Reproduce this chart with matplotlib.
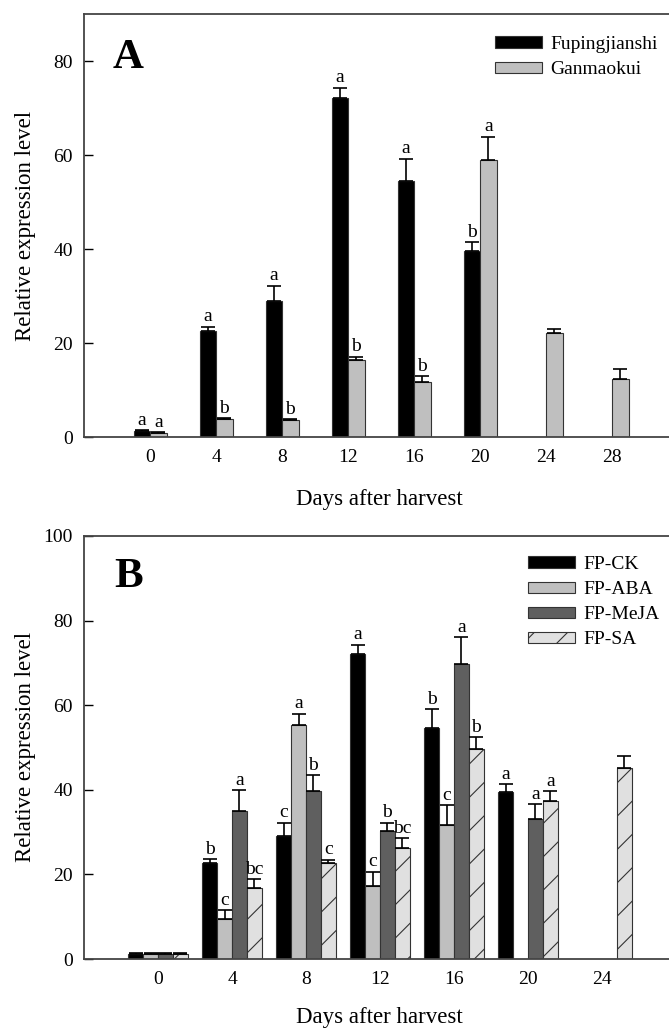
import numpy as np
import matplotlib
matplotlib.use("Agg")
import matplotlib.pyplot as plt

plt.rcParams["font.family"] = ["Liberation Serif", "DejaVu Serif"]
plt.rcParams["hatch.linewidth"] = 0.8
plt.rcParams["hatch.color"] = "#333333"

nan = np.nan

# Panel A: two cultivars
days_a = [0, 4, 8, 12, 16, 20, 24, 28]
fu_mean = [1.2, 22.6, 29.0, 72.2, 54.5, 39.6, nan, nan]
fu_err = [0.2, 0.9, 3.2, 2.1, 4.7, 1.8, nan, nan]
fu_letters = ["a", "a", "a", "a", "a", "b", "", ""]
gan_mean = [0.85, 3.8, 3.6, 16.4, 11.7, 59.0, 22.1, 12.4]
gan_err = [0.2, 0.2, 0.2, 0.7, 1.3, 4.9, 0.8, 2.0]
gan_letters = ["a", "b", "b", "b", "b", "a", "", ""]

# Panel B: hormone treatments
days_b = [0, 4, 8, 12, 16, 20, 24]
ck_mean = [1.2, 22.6, 29.0, 72.1, 54.5, 39.5, nan]
ck_err = [0.2, 1.0, 3.2, 2.2, 4.6, 1.8, nan]
ck_letters = ["", "b", "c", "a", "b", "a", ""]
aba_mean = [1.2, 9.4, 55.3, 17.3, 31.6, nan, nan]
aba_err = [0.2, 2.2, 2.7, 3.3, 4.7, nan, nan]
aba_letters = ["", "c", "a", "c", "c", "", ""]
meja_mean = [1.2, 35.1, 39.8, 30.2, 69.8, 33.0, nan]
meja_err = [0.2, 4.8, 3.6, 2.0, 6.3, 3.6, nan]
meja_letters = ["", "a", "b", "b", "a", "a", ""]
sa_mean = [1.2, 16.8, 22.6, 26.3, 49.6, 37.3, 45.2]
sa_err = [0.2, 2.0, 0.9, 2.3, 2.9, 2.4, 2.8]
sa_letters = ["", "bc", "c", "bc", "b", "a", ""]

FS = 14
LFS = 16.5
EDGE = "#333333"
W, H = 669, 1030


def draw_series(ax, x, mean, err, letters, **style):
    mean = np.asarray(mean, float)
    err = np.asarray(err, float)
    ax.bar(x, mean, edgecolor=EDGE, linewidth=0.8, zorder=2, **style)
    ok = ~np.isnan(mean)
    ax.errorbar(x[ok], mean[ok], yerr=[np.zeros(ok.sum()), err[ok]], fmt="none",
                ecolor="black", elinewidth=1.2, capsize=5, capthick=1.2, zorder=3)
    for xi, m, e, lab in zip(x, mean, err, letters):
        if lab:
            ax.annotate(lab, (xi, m + e), xytext=(0, 1), textcoords="offset points",
                        ha="center", va="bottom", fontsize=FS)


def style_axes(ax, ylim, yticks, xlab_y, ylab_y):
    ax.set_ylim(*ylim)
    ax.set_yticks(yticks)
    for side in ("left", "top", "bottom"):
        ax.spines[side].set_color("#444444")
        ax.spines[side].set_linewidth(1.3)
    ax.spines["right"].set_visible(False)
    ax.tick_params(axis="y", direction="in", length=6.5, width=1.0, labelsize=FS, pad=8)
    ax.tick_params(axis="x", length=0, labelsize=FS, pad=9)
    ax.set_xlabel("Days after harvest", fontsize=LFS)
    ax.set_ylabel("Relative expression level", fontsize=LFS)
    ax.xaxis.set_label_coords(379 / W, 1 - xlab_y / H, transform=ax.figure.transFigure)
    ax.yaxis.set_label_coords(26 / W, 1 - ylab_y / H, transform=ax.figure.transFigure)
    ax.xaxis.label.set_va("center")
    ax.yaxis.label.set_va("center")


def legend(ax, x, y):
    ax.legend(loc="upper left", bbox_to_anchor=(x / W, 1 - y / H),
              bbox_transform=ax.figure.transFigure, frameon=False, fontsize=FS,
              handlelength=2.4, handleheight=0.52, labelspacing=0.42, borderpad=0,
              borderaxespad=0, handletextpad=0.45)


fig = plt.figure(figsize=(W / 100, H / 100), dpi=100)

# ---- A ----
axA = fig.add_axes([84 / W, 1 - 437 / H, 9 * 66 / W, 423 / H])
xa = np.arange(len(days_a), dtype=float)
w = 0.25
draw_series(axA, xa - w / 2, fu_mean, fu_err, fu_letters, width=w, color="black",
            label="Fupingjianshi")
draw_series(axA, xa + w / 2, gan_mean, gan_err, gan_letters, width=w, color="#bfbfbf",
            label="Ganmaokui")
axA.set_xlim(-1, 8)
axA.set_xticks(xa)
axA.set_xticklabels([str(d) for d in days_a])
style_axes(axA, (0, 90), [0, 20, 40, 60, 80], 500, 226)
fig.text(113 / W, 1 - 58 / H, "A", fontsize=31, fontweight="bold", va="center", ha="left")
legend(axA, 495, 36)

# ---- B ----
axB = fig.add_axes([84 / W, 1 - 959 / H, 8 * 74 / W, 423 / H])
xb = np.arange(len(days_b), dtype=float)
w = 0.2
draw_series(axB, xb - 1.5 * w, ck_mean, ck_err, ck_letters, width=w, color="black",
            label="FP-CK")
draw_series(axB, xb - 0.5 * w, aba_mean, aba_err, aba_letters, width=w, color="#bfbfbf",
            label="FP-ABA")
draw_series(axB, xb + 0.5 * w, meja_mean, meja_err, meja_letters, width=w, color="#5f5f5f",
            label="FP-MeJA")
draw_series(axB, xb + 1.5 * w, sa_mean, sa_err, sa_letters, width=w, color="#e0e0e0",
            hatch="/", label="FP-SA")
axB.set_xlim(-1, 7)
axB.set_xticks(xb)
axB.set_xticklabels([str(d) for d in days_b])
style_axes(axB, (0, 100), [0, 20, 40, 60, 80, 100], 1018, 747)
fig.text(114 / W, 1 - 577 / H, "B", fontsize=31, fontweight="bold", va="center", ha="left")
legend(axB, 528, 556)

fig.savefig("out.png", dpi=100)
